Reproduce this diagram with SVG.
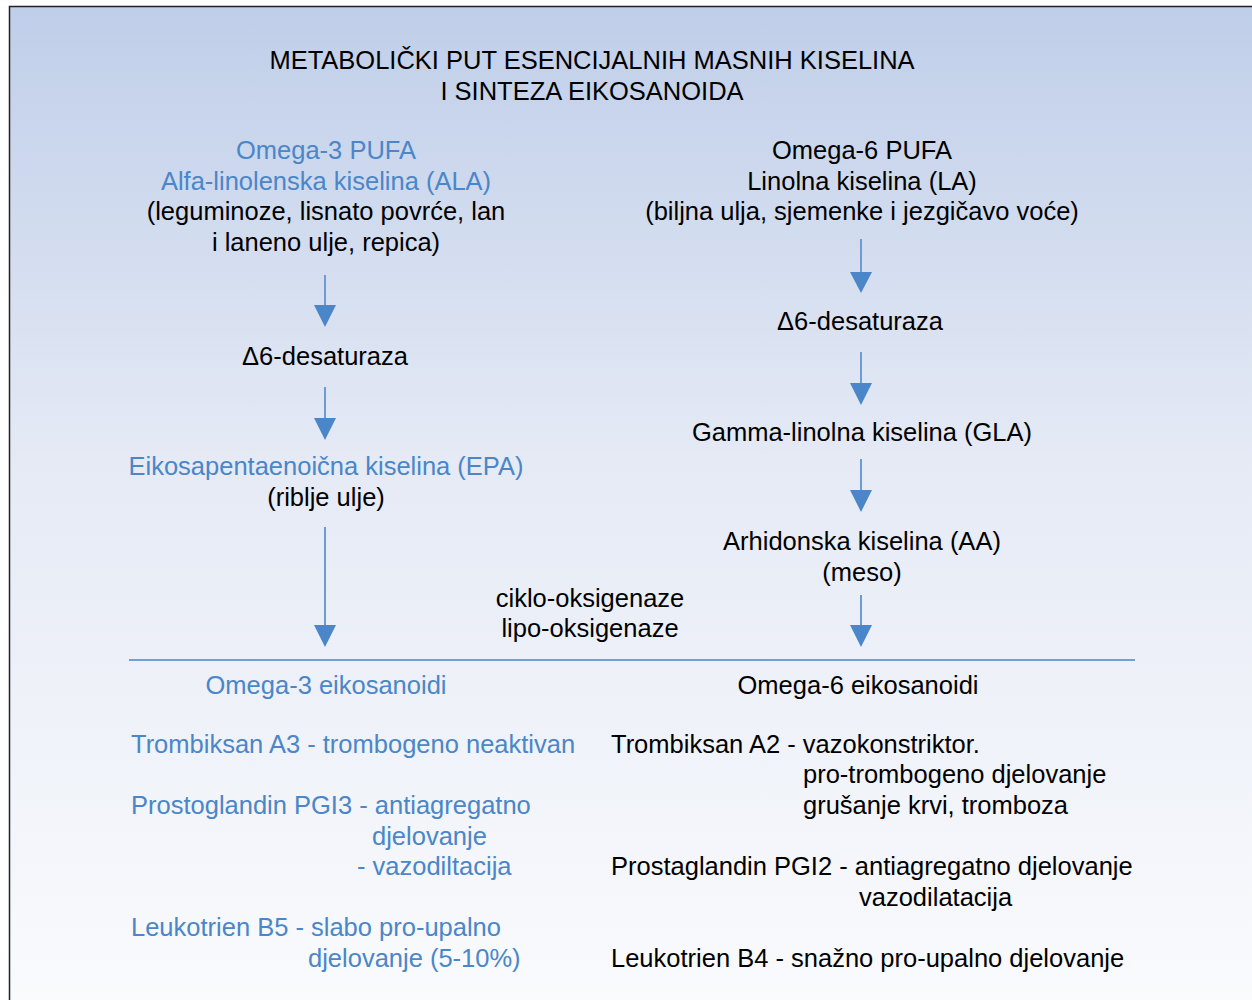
<svg xmlns="http://www.w3.org/2000/svg" width="1252" height="1000" viewBox="0 0 1252 1000">
<defs>
<linearGradient id="bg" x1="0" y1="0" x2="0" y2="1">
<stop offset="0" stop-color="#bfcee9"/>
<stop offset="0.45" stop-color="#e5eaf5"/>
<stop offset="1" stop-color="#fafbfd"/>
</linearGradient>
<style>
text{font-family:"Liberation Sans",Arial,sans-serif;font-size:25.5px;fill:#000}
.b{fill:#4a86c8}
.c{text-anchor:middle}
.ln{stroke:#6f9bd4;stroke-width:2}
.hd{fill:#4a86c8}
</style>
</defs>
<rect x="9.5" y="6.5" width="1260" height="1010" fill="url(#bg)" stroke="#222" stroke-width="1.5"/>
<g id="title">
<text class="c" x="592" y="69">METABOLIČKI PUT ESENCIJALNIH MASNIH KISELINA</text>
<text class="c" x="592" y="100">I SINTEZA EIKOSANOIDA</text>
</g>
<g id="omega3">
<text class="c b" x="326" y="159">Omega-3 PUFA</text>
<text class="c b" x="326" y="190">Alfa-linolenska kiselina (ALA)</text>
<text class="c" x="326" y="220">(leguminoze, lisnato povrće, lan</text>
<text class="c" x="326" y="251">i laneno ulje, repica)</text>
</g>
<g id="d6-left"><text class="c" x="325" y="365">Δ6-desaturaza</text></g>
<g id="epa">
<text class="c b" x="326" y="475">Eikosapentaenoična kiselina (EPA)</text>
<text class="c" x="326" y="506">(riblje ulje)</text>
</g>
<g id="omega6">
<text class="c" x="862" y="159">Omega-6 PUFA</text>
<text class="c" x="862" y="190">Linolna kiselina (LA)</text>
<text class="c" x="862" y="220">(biljna ulja, sjemenke i jezgičavo voće)</text>
</g>
<g id="d6-right"><text class="c" x="860" y="330">Δ6-desaturaza</text></g>
<g id="gla"><text class="c" x="862" y="441">Gamma-linolna kiselina (GLA)</text></g>
<g id="aa">
<text class="c" x="862" y="550">Arhidonska kiselina (AA)</text>
<text class="c" x="862" y="581">(meso)</text>
</g>
<g id="enzymes">
<text class="c" x="590" y="607">ciklo-oksigenaze</text>
<text class="c" x="590" y="637">lipo-oksigenaze</text>
</g>
<g id="connectors">
<line class="ln" x1="325" y1="275" x2="325" y2="307"/><polygon class="hd" points="314,305 336,305 325,327"/>
<line class="ln" x1="325" y1="387" x2="325" y2="420"/><polygon class="hd" points="314,418 336,418 325,440"/>
<line class="ln" x1="325" y1="527" x2="325" y2="627"/><polygon class="hd" points="314,625 336,625 325,647"/>
<line class="ln" x1="861" y1="239" x2="861" y2="274"/><polygon class="hd" points="850,272 872,272 861,293"/>
<line class="ln" x1="861" y1="352" x2="861" y2="385"/><polygon class="hd" points="850,383 872,383 861,405"/>
<line class="ln" x1="861" y1="459" x2="861" y2="492"/><polygon class="hd" points="850,490 872,490 861,512"/>
<line class="ln" x1="861" y1="595" x2="861" y2="627"/><polygon class="hd" points="850,625 872,625 861,647"/>
<line x1="129" y1="660" x2="1135" y2="660" stroke="#4a86c8" stroke-width="1.5"/>
</g>
<g id="omega3-eikosanoidi">
<text class="c b" x="326" y="694">Omega-3 eikosanoidi</text>
<text class="b" x="131" y="753">Trombiksan A3 - trombogeno neaktivan</text>
<text class="b" x="131" y="814">Prostoglandin PGI3 - antiagregatno</text>
<text class="b" x="372" y="845">djelovanje</text>
<text class="b" x="357" y="875">- vazodiltacija</text>
<text class="b" x="131" y="936">Leukotrien B5 - slabo pro-upalno</text>
<text class="b" x="308" y="967">djelovanje (5-10%)</text>
</g>
<g id="omega6-eikosanoidi">
<text class="c" x="858" y="694">Omega-6 eikosanoidi</text>
<text x="611" y="753">Trombiksan A2 - vazokonstriktor.</text>
<text x="803" y="783">pro-trombogeno djelovanje</text>
<text x="803" y="814">grušanje krvi, tromboza</text>
<text x="611" y="875">Prostaglandin PGI2 - antiagregatno djelovanje</text>
<text x="859" y="906">vazodilatacija</text>
<text x="611" y="967">Leukotrien B4 - snažno pro-upalno djelovanje</text>
</g>
</svg>
